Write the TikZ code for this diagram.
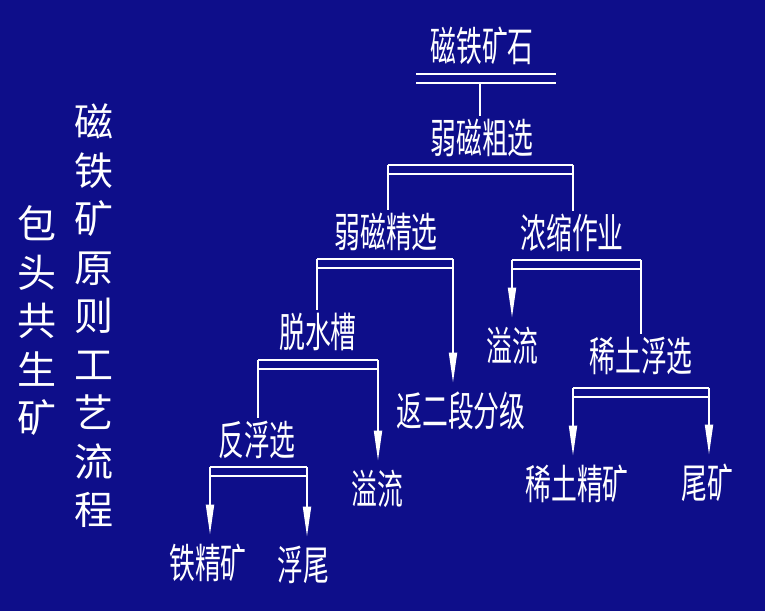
\documentclass[tikz,border=0pt]{standalone}
\usepackage{fontspec}
\newfontfamily\cjk{Noto Sans CJK SC}
\usetikzlibrary{arrows.meta}
\definecolor{bg}{RGB}{14,14,138}
\tikzset{
 lbl/.style={text=white, inner sep=0pt, font=\cjk\fontsize{41}{41}\selectfont, text height=33pt, text depth=3.3pt},
 col/.style={text=white, inner sep=0pt, align=center, font=\cjk\fontsize{39}{48.5}\selectfont},
 bar/.style={draw=white, line width=2pt},
 bar2/.style={draw=white, line width=1.6pt},
 link/.style={draw=white, line width=1.8pt, shorten >=5pt},
 flow/.style={draw=white, line width=1.8pt, -{Triangle[length=30pt,width=8pt]}, shorten >=11pt},
}
\newcommand\tlab[1]{\scalebox{0.63}[1]{#1}}
\newcommand\dblbar[4]{%
 \coordinate (#1-l) at (#3,#2); \coordinate (#1-r) at (#4,#2);
 \draw[bar] (#1-l) -- (#1-r);
 \draw[bar2] ([yshift=-9pt]#1-l) -- ([yshift=-9pt]#1-r);
}
\begin{document}
\begin{tikzpicture}[x=1pt,y=-1pt]
\path[fill=bg] (0,0) rectangle (765,611);
\useasboundingbox (0,0) rectangle (765,611);
% side titles
\node[col] (t1) at (37,321) {包\\头\\共\\生\\矿};
\node[col] (t2) at (94,316) {磁\\铁\\矿\\原\\则\\工\\艺\\流\\程};
% tree labels
\node[lbl] (n1) at (482,47) {\tlab{磁铁矿石}};
\node[lbl] (n2) at (482,139) {\tlab{弱磁粗选}};
\node[lbl] (n3) at (386,233) {\tlab{弱磁精选}};
\node[lbl] (n4) at (572,234) {\tlab{浓缩作业}};
\node[lbl] (n5) at (318,333) {\tlab{脱水槽}};
\node[lbl] (n6) at (461,412) {\tlab{返二段分级}};
\node[lbl] (n7) at (512,347) {\tlab{溢流}};
\node[lbl] (n8) at (641,357) {\tlab{稀土浮选}};
\node[lbl] (n9) at (257,441) {\tlab{反浮选}};
\node[lbl] (n10) at (377,490) {\tlab{溢流}};
\node[lbl] (n11) at (208,564) {\tlab{铁精矿}};
\node[lbl] (n12) at (303,566) {\tlab{浮尾}};
\node[lbl] (n13) at (577,485) {\tlab{稀土精矿}};
\node[lbl] (n14) at (707,484) {\tlab{尾矿}};
% bars
\dblbar{B1}{74}{416}{556}
\dblbar{B2}{165}{388}{573}
\dblbar{B3}{259}{317}{453}
\dblbar{B4}{260}{512}{641}
\dblbar{B5}{360}{258}{378}
\dblbar{B6}{388}{573}{709}
\dblbar{B7}{467}{210}{307}
% connectors
\coordinate (B1-m) at (480,83);
\draw[link] (B1-m) -- (B1-m |- n2.north);
\draw[link] (B2-l) -- (B2-l |- n3.north);
\draw[link] (B2-r) -- (B2-r |- n4.north);
\draw[link] (B3-l) -- (B3-l |- n5.north);
\draw[flow] (B3-r) -- (B3-r |- n6.north);
\draw[flow] (B4-l) -- (B4-l |- n7.north);
\draw[link] (B4-r) -- (B4-r |- n8.north);
\draw[link] (B5-l) -- (B5-l |- n9.north);
\draw[flow] (B5-r) -- (B5-r |- n10.north);
\draw[flow] (B6-l) -- (B6-l |- n13.north);
\draw[flow] (B6-r) -- (B6-r |- n14.north);
\draw[flow] (B7-l) -- (B7-l |- n11.north);
\draw[flow] (B7-r) -- (B7-r |- n12.north);
\end{tikzpicture}
\end{document}
